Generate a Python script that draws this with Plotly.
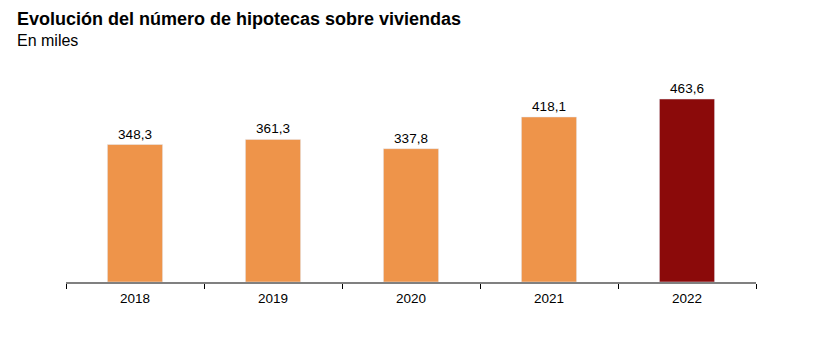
import plotly.graph_objects as go

years = ["2018", "2019", "2020", "2021", "2022"]
values = [348.3, 361.3, 337.8, 418.1, 463.6]
labels = ["348,3", "361,3", "337,8", "418,1", "463,6"]
colors = ["#EE944A", "#EE944A", "#EE944A", "#EE944A", "#8B0A0A"]

fig = go.Figure(go.Bar(
    x=years, y=values, marker_color=colors, width=0.4,
    text=labels, textposition="outside", cliponaxis=False,
    textfont=dict(family="Liberation Sans, Arial", size=13.5, color="#000"),
))

fig.update_layout(
    width=814, height=345,
    margin=dict(l=66, r=58, t=60, b=63),
    paper_bgcolor="white", plot_bgcolor="white",
    showlegend=False,
    font=dict(family="Liberation Sans, Arial", color="#000"),
    xaxis=dict(
        type="category", range=[-0.5, 4.5], tickson="boundaries",
        ticks="outside", ticklen=5, tickcolor="#000", tickwidth=1,
        showline=True, linecolor="#808080", linewidth=1.5,
        tickfont=dict(size=13.5, color="#000"), showgrid=False,
        ticklabelstandoff=3,
    ),
    yaxis=dict(range=[0, 562.4], visible=False, showgrid=False, zeroline=False),
    annotations=[
        dict(text="<b>Evolución del número de hipotecas sobre viviendas</b>",
             xref="paper", yref="paper", x=0, y=1, xanchor="left", yanchor="middle",
             showarrow=False, font=dict(size=18, color="#000")),
        dict(text="En miles", xref="paper", yref="paper", x=0, y=1,
             xanchor="left", yanchor="middle", showarrow=False,
             font=dict(size=16, color="#000")),
    ],
)
# position annotations in pixels relative to paper
plot_h = 345 - 60 - 63
plot_w = 814 - 66 - 58
def py(ypix):
    return (345 - 63 - ypix) / plot_h
def px(xpix):
    return (xpix - 66) / plot_w
fig.layout.annotations[0].update(x=px(15), y=py(19))
fig.layout.annotations[1].update(x=px(15), y=py(40))

fig.write_html("out.html")
